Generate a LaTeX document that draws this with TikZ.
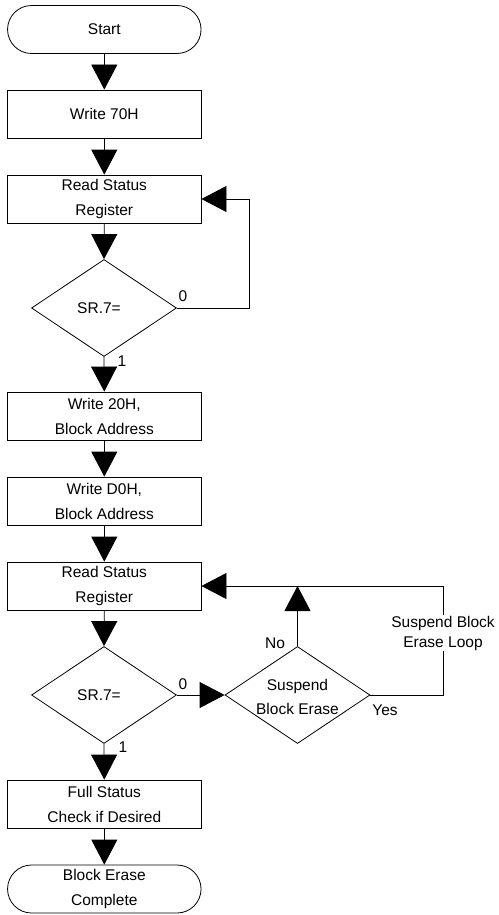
\documentclass[tikz,border=0pt]{standalone}
\usepackage{fontspec}
\setmainfont{Liberation Sans}
\usetikzlibrary{arrows.meta,shapes.geometric}
\begin{document}
\begin{tikzpicture}[x=1pt,y=-1pt,
  every node/.style={font=\fontsize{15.5}{25}\selectfont},
  base/.style={draw=black, line width=0.8pt, minimum width=193.5pt, inner sep=0pt, align=center},
  procbox/.style={base, minimum height=48pt},
  term/.style={base, minimum height=48pt, rounded corners=24pt},
  decision/.style={diamond, draw=black, line width=0.8pt, minimum width=145pt, minimum height=97pt, inner sep=0pt},
  flow/.style={line width=0.8pt, -{Triangle[width=26pt,length=25pt]}},
  lbl/.style={font=\fontsize{15.5}{20}\selectfont, inner sep=1pt, align=center}
]
\useasboundingbox (0,0) rectangle (498,915);

\node[term] (start) at (104.3,29.5) {Start};
\node[procbox] (w70) at (104.3,114) {Write 70H};
\node[procbox] (rs1) at (104.3,199) {Read Status\\Register};
\node[decision] (d1) at (104,308) {};
\node (d1t) at (99,308) {SR.7=};
\node[procbox] (w20) at (104.3,416) {Write 20H,\\Block Address};
\node[procbox] (wd0) at (104.3,501) {Write D0H,\\Block Address};
\node[procbox] (rs2) at (104.3,586) {Read Status\\Register};
\node[decision] (d2) at (104,695) {};
\node (d2t) at (99,695) {SR.7=};
\node[decision] (d3) at (297.5,695) {};
\node[lbl, font=\fontsize{15.5}{24}\selectfont] (d3t) at (297.5,697) {Suspend\\Block Erase};
\node[procbox] (fs) at (104.3,804) {Full Status\\Check if Desired};
\node[term] (end) at (104.3,889) {Block Erase\\Complete};

\draw[flow] (start.south) -- (w70.north);
\draw[flow] (w70.south) -- (rs1.north);
\draw[flow] (rs1.south) -- (d1.north);
\draw[flow] (d1.south) -- (w20.north);
\draw[flow] (w20.south) -- (wd0.north);
\draw[flow] (wd0.south) -- (rs2.north);
\draw[flow] (rs2.south) -- (d2.north);
\draw[flow] (d2.south) -- (fs.north);
\draw[flow] (fs.south) -- (end.north);

\coordinate (c1) at (249,199);
\draw[flow] (d1.east) -| (c1) -- (rs1.east);
\draw[flow] (d2.east) -- (d3.west);

\coordinate (c2) at (443,586);
\draw[flow] (d3.east) -| (c2) -- (rs2.east);
\draw[flow] (d3.north) -- (d3.north |- rs2.east);

\node[lbl, fill=white] (loopl) at (443,633) {Suspend Block\\Erase Loop};
\node[lbl] (l0a) at (183,296) {0};
\node[lbl] (l1a) at (122,361) {1};
\node[lbl] (l0b) at (183,684) {0};
\node[lbl] (l1b) at (123,747) {1};
\node[lbl] (lno) at (275,643) {No};
\node[lbl] (lyes) at (385,710) {Yes};
\end{tikzpicture}
\end{document}
